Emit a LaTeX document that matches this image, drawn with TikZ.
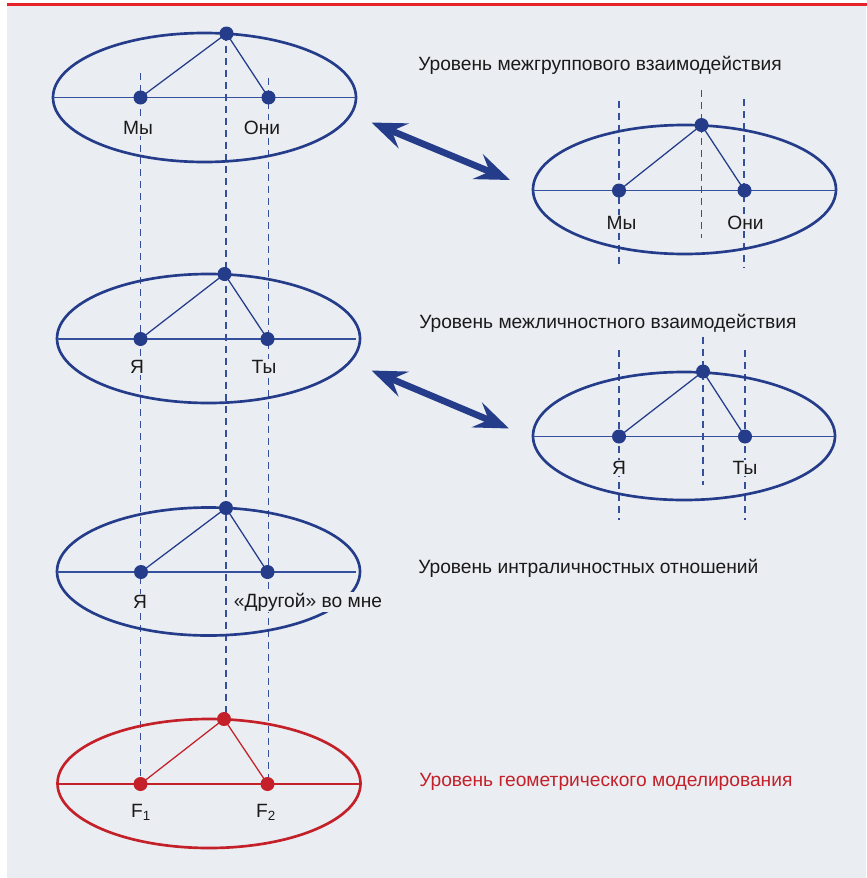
\documentclass[tikz,border=0pt]{standalone}
\usepackage{fontspec}
\setmainfont{Liberation Sans}
\usetikzlibrary{arrows.meta}
\definecolor{bgc}{HTML}{EAEEF2}
\definecolor{nblue}{HTML}{253C8A}
\definecolor{lblue}{HTML}{34509C}
\definecolor{nred}{HTML}{C42029}
\definecolor{topred}{HTML}{E52329}
\definecolor{txt}{HTML}{1A1A1A}
\begin{document}
\begin{tikzpicture}[x=0.75pt,y=-0.75pt,
  ell/.style={line width=2pt},
  thinln/.style={line width=0.95pt},
  dsh/.style={line width=1pt, lblue, dash pattern=on 5.5pt off 3.5pt},
  dot/.style={circle, fill, inner sep=0pt, minimum size=10.5pt},
  lbl/.style={font=\fontsize{14.4}{16}\selectfont, text=txt, fill=bgc, inner sep=1pt},
  lvl/.style={font=\fontsize{14.4}{16}\selectfont, text=txt, anchor=west, inner sep=0pt},
  dblarrow/.style={line width=5pt, nblue,
    {Stealth[length=26pt,width=20pt,inset=9.5pt]}-{Stealth[length=26pt,width=20pt,inset=9.5pt]}},
]
% background
\useasboundingbox (0,0) rectangle (867,878);
\fill[white] (0,0) rectangle (867,878);
\fill[topred] (7,3) rectangle (867,5.5);
\fill[bgc] (7,6) rectangle (866,878);

% ---------- positions ----------
% left column
\coordinate (c1) at (204.5,97.5);
\coordinate (t1) at (226.5,33.5);
\coordinate (a1) at (140.5,97.5);
\coordinate (b1) at (268.5,97.5);
\coordinate (w1) at (53,97.5);
\coordinate (e1) at (356,97.5);

\coordinate (c2) at (208.5,338.5);
\coordinate (t2) at (224.5,274);
\coordinate (a2) at (140.5,339);
\coordinate (b2) at (267.5,339);
\coordinate (w2) at (57,339);
\coordinate (e2) at (356,339);

\coordinate (c3) at (208.5,571.5);
\coordinate (t3) at (226,508);
\coordinate (a3) at (141,572);
\coordinate (b3) at (267.5,572);
\coordinate (w3) at (57,572);
\coordinate (e3) at (356,572);

\coordinate (c4) at (209,783.5);
\coordinate (t4) at (224,719);
\coordinate (a4) at (140.5,784);
\coordinate (b4) at (267.5,784);
\coordinate (w4) at (58,784);
\coordinate (e4) at (360,784);

% right column
\coordinate (c5) at (684.5,189.5);
\coordinate (t5) at (701.5,125);
\coordinate (a5) at (619,190.5);
\coordinate (b5) at (744.5,190.5);
\coordinate (w5) at (533,190.5);
\coordinate (e5) at (836,190.5);

\coordinate (c6) at (684,436);
\coordinate (t6) at (703,371.5);
\coordinate (a6) at (619,436.5);
\coordinate (b6) at (745,436.5);
\coordinate (w6) at (533,436.5);
\coordinate (e6) at (835,436.5);

% dashed line ends
\coordinate (dl0) at (140.5,73);
\coordinate (dm0) at (226,33.5);
\coordinate (dm4) at (226,719);
\coordinate (dr0) at (268.5,78);
\coordinate (dr4) at (268.5,784);

\coordinate (p5a) at (619,100.5);  \coordinate (q5a) at (619,268);
\coordinate (p5m) at (701.5,90);   \coordinate (q5m) at (701.5,238);
\coordinate (p5b) at (744,99);     \coordinate (q5b) at (744,268);

\coordinate (p6a) at (619,350);    \coordinate (q6a) at (619,520);
\coordinate (p6m) at (703,337);    \coordinate (q6m) at (703,485);
\coordinate (p6b) at (745,350);    \coordinate (q6b) at (745,520);

% ---------- dashed verticals ----------
\draw[dsh] (dl0) -- (a4);
\draw[dsh] (dm0) -- (dm4);
\draw[dsh] (dr0) -- (dr4);
\draw[dsh] (p5a) -- (q5a);
\draw[dsh] (p5m) -- (q5m);
\draw[dsh] (p5b) -- (q5b);
\draw[dsh] (p6a) -- (q6a);
\draw[dsh] (p6m) -- (q6m);
\draw[dsh] (p6b) -- (q6b);

% ---------- ellipses ----------
\foreach \i/\rx/\ry in {1/151.5/64.5,2/151.5/64.5,3/151.5/64,5/151.5/64.5,6/151/64}{
  \draw[ell, nblue] (c\i) ellipse [x radius=\rx, y radius=\ry];
  \draw[thinln, lblue] (w\i) -- (e\i);
  \draw[thinln, nblue] (a\i) -- (t\i) -- (b\i);
}
\draw[ell, nred] (c4) ellipse [x radius=151.5, y radius=64.5];
\draw[line width=1.5pt, nred] (w4) -- (e4);
\draw[thinln, nred] (a4) -- (t4) -- (b4);

% ---------- dots ----------
\foreach \i in {1,2,3,5,6}{
  \node[dot, nblue] (T\i) at (t\i) {};
  \node[dot, nblue] (A\i) at (a\i) {};
  \node[dot, nblue] (B\i) at (b\i) {};
}
\node[dot, nred] (T4) at (t4) {};
\node[dot, nred] (A4) at (a4) {};
\node[dot, nred] (B4) at (b4) {};

% ---------- point labels ----------
\node[lbl] (la1) at (138,128) {Мы};
\node[lbl] (lb1) at (262,128) {Они};
\node[lbl] (la2) at (137,367) {Я};
\node[lbl] (lb2) at (264,367) {Ты};
\node[lbl] (la3) at (140,602) {Я};
\node[lbl] (lb3) at (308,602) {«Другой» во мне};
\node[lbl] (la4) at (141,812) {F\textsubscript{1}};
\node[lbl] (lb4) at (266,812) {F\textsubscript{2}};
\node[lbl] (la5) at (621.5,222.5) {Мы};
\node[lbl] (lb5) at (745.5,223) {Они};
\node[lbl] (la6) at (619,468) {Я};
\node[lbl] (lb6) at (745,468) {Ты};

% ---------- level labels ----------
\node[lvl] (lv1) at (418,65) {Уровень межгруппового взаимодействия};
\node[lvl] (lv2) at (419,323) {Уровень межличностного взаимодействия};
\node[lvl] (lv3) at (418,568) {Уровень интраличностных отношений};
\node[lvl, text=nred] (lv4) at (419,782) {Уровень геометрического моделирования};

% ---------- arrows ----------
\coordinate (u1) at (371.5,122.5);
\coordinate (v1) at (510,180);
\coordinate (u2) at (371.5,370.5);
\coordinate (v2) at (509,428.5);
\draw[dblarrow] (u1) -- (v1);
\draw[dblarrow] (u2) -- (v2);
\end{tikzpicture}
\end{document}
